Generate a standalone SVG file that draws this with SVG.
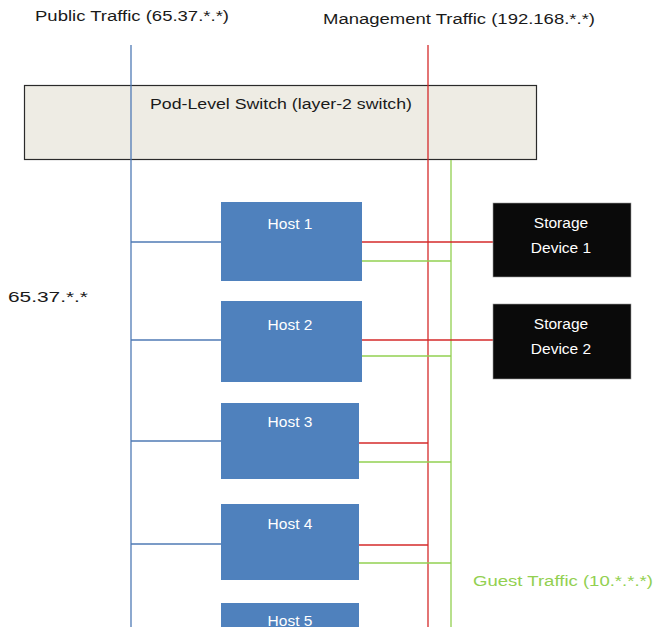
<svg xmlns="http://www.w3.org/2000/svg" width="654" height="627" viewBox="0 0 654 627">
<style>
.lbl{font-family:"Liberation Sans",Arial,sans-serif;font-size:14px;fill:#1a1a1a}
.host rect{fill:#4f81bd}
.host text{font-family:"Liberation Sans",Arial,sans-serif;font-size:15.5px;fill:#ffffff;text-anchor:middle}
.stor rect{fill:#0a0a0a;stroke:#9a9a9a;stroke-width:0.6}
.stor text{font-family:"Liberation Sans",Arial,sans-serif;font-size:15.5px;fill:#ffffff;text-anchor:middle}
.pub{stroke:#4f7ab5;stroke-width:1.3;fill:none}
.mgmt{stroke:#d42a2a;stroke-width:1.3;fill:none}
.guest{stroke:#92d050;stroke-width:1.3;fill:none}
</style>
<rect width="654" height="627" fill="#ffffff"/>
<g id="switch">
<rect x="24.5" y="85.5" width="512" height="74" fill="#eeece4" stroke="#2a2a2a" stroke-width="1.2"/>
<text class="lbl" x="150" y="109" textLength="262" lengthAdjust="spacingAndGlyphs">Pod-Level Switch (layer-2 switch)</text>
</g>
<g id="connectors">
<line class="pub" x1="131" y1="45" x2="131" y2="627"/>
<line class="mgmt" x1="428" y1="45" x2="428" y2="627"/>
<line class="guest" x1="451" y1="160" x2="451" y2="627"/>
<line class="pub" x1="131" y1="242" x2="221" y2="242"/>
<line class="pub" x1="131" y1="340" x2="221" y2="340"/>
<line class="pub" x1="131" y1="441" x2="221" y2="441"/>
<line class="pub" x1="131" y1="544" x2="221" y2="544"/>
<line class="mgmt" x1="362" y1="242" x2="493" y2="242"/>
<line class="guest" x1="362" y1="261" x2="451" y2="261"/>
<line class="mgmt" x1="362" y1="340" x2="493" y2="340"/>
<line class="guest" x1="362" y1="356" x2="451" y2="356"/>
<line class="mgmt" x1="359" y1="443" x2="428" y2="443"/>
<line class="guest" x1="359" y1="462" x2="451" y2="462"/>
<line class="mgmt" x1="359" y1="545" x2="428" y2="545"/>
<line class="guest" x1="359" y1="563" x2="451" y2="563"/>
</g>
<g id="host1" class="host"><rect x="221" y="202" width="141" height="79"/><text x="290" y="229">Host 1</text></g>
<g id="host2" class="host"><rect x="221" y="301" width="141" height="81"/><text x="290" y="330">Host 2</text></g>
<g id="host3" class="host"><rect x="221" y="403" width="138" height="76"/><text x="290" y="427">Host 3</text></g>
<g id="host4" class="host"><rect x="221" y="504" width="138" height="76"/><text x="290" y="529">Host 4</text></g>
<g id="host5" class="host"><rect x="221" y="603" width="138" height="30"/><text x="290" y="626">Host 5</text></g>
<g id="storage1" class="stor"><rect x="493" y="203" width="138" height="74"/><text x="561" y="228">Storage</text><text x="561" y="253">Device 1</text></g>
<g id="storage2" class="stor"><rect x="493" y="304" width="138" height="75"/><text x="561" y="329">Storage</text><text x="561" y="354">Device 2</text></g>
<g id="labels">
<text class="lbl" x="35" y="21" textLength="194" lengthAdjust="spacingAndGlyphs">Public Traffic (65.37.*.*)</text>
<text class="lbl" x="323" y="24" textLength="272" lengthAdjust="spacingAndGlyphs">Management Traffic (192.168.*.*)</text>
<text class="lbl" x="8" y="302" textLength="80" lengthAdjust="spacingAndGlyphs">65.37.*.*</text>
<text class="lbl" x="473" y="586" textLength="180" lengthAdjust="spacingAndGlyphs" style="fill:#92d050">Guest Traffic (10.*.*.*)</text>
</g>
</svg>
